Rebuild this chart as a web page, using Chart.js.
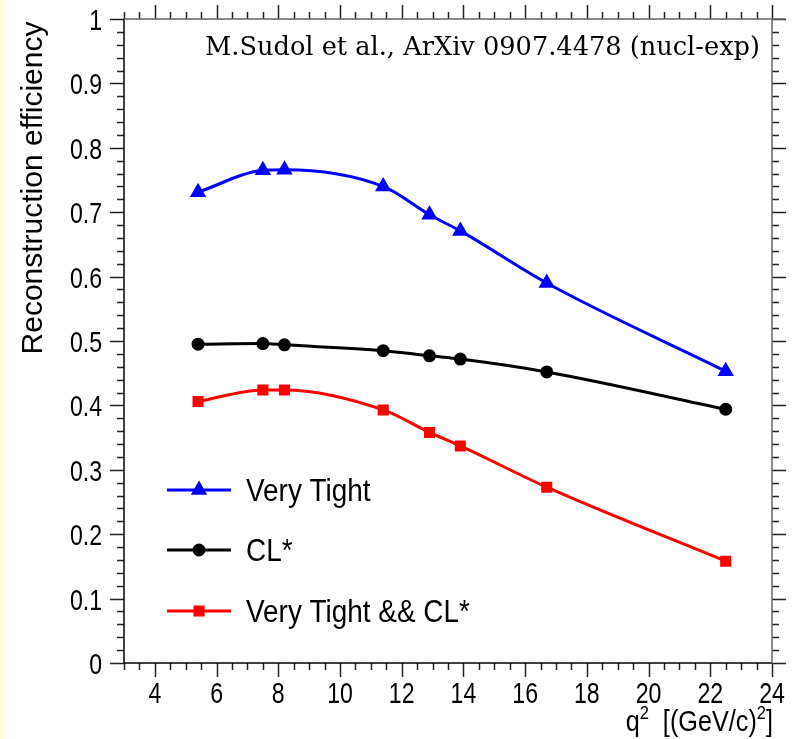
<!DOCTYPE html>
<html>
<head>
<meta charset="utf-8">
<script src="https://cdn.jsdelivr.net/npm/chart.js@4"></script>
<style>
  html, body { margin: 0; padding: 0; background: #fff; }
  #wrap { width: 794px; height: 739px; }
</style>
</head>
<body>
<div id="wrap"><canvas id="effChart" width="794" height="739"></canvas></div>
<script>
const q2 = [5.4, 7.5, 8.2, 11.4, 12.9, 13.9, 16.7, 22.5];
const veryTight = [0.731, 0.765, 0.766, 0.740, 0.696, 0.671, 0.590, 0.453];
const clStar = [0.495, 0.496, 0.494, 0.485, 0.477, 0.472, 0.452, 0.394];
const veryTightCl = [0.406, 0.424, 0.424, 0.393, 0.358, 0.337, 0.273, 0.158];
const xTickValues = [4, 6, 8, 10, 12, 14, 16, 18, 20, 22, 24];
const legendLabels = ["Very Tight", "CL*", "Very Tight && CL*"];

const sans = "'Liberation Sans', Arial, sans-serif";
Chart.defaults.font.family = sans;
Chart.defaults.color = "#000";

const toPoints = ys => q2.map((x, i) => ({x: x, y: ys[i]}));

// text squeezed sideways, the ROOT picture is narrower than the font
function squeezed(ctx, text, x, y, sx, align) {
    ctx.save();
    ctx.translate(x, y);
    ctx.scale(sx, 1);
    ctx.textAlign = align;
    ctx.fillText(text, 0, 0);
    ctx.restore();
}

// frame, ROOT style ticks, labels, legend and texts
const rootStyle = {
    id: "rootStyle",
    beforeDraw(chart) {
        const ctx = chart.ctx;
        ctx.save();
        ctx.fillStyle = "#fff";
        ctx.fillRect(0, 0, chart.width, chart.height);
        ctx.fillStyle = "#ffffe0";
        ctx.fillRect(0, 0, 6, chart.height);
        ctx.restore();
    },
    afterDraw(chart) {
        const ctx = chart.ctx;
        const a = chart.chartArea;
        const xs = chart.scales.x, ys = chart.scales.y;
        ctx.save();
        ctx.lineWidth = 1.5;
        ctx.strokeStyle = "#222";
        // x ticks, every 0.5, major every 2
        for (let v = 3; v <= 24.001; v += 0.5) {
            const px = Math.round(xs.getPixelForValue(v)) + 0.5;
            const major = Math.abs(v / 2 - Math.round(v / 2)) < 1e-6;
            const len = major ? 14 : 7;
            ctx.beginPath();
            ctx.moveTo(px, a.bottom); ctx.lineTo(px, a.bottom + len);
            ctx.moveTo(px, a.top); ctx.lineTo(px, a.top - len);
            ctx.stroke();
        }
        // y ticks, every 0.02, major every 0.1
        for (let k = 0; k <= 50; k++) {
            const v = k * 0.02;
            const py = Math.round(ys.getPixelForValue(v)) + 0.5;
            const len = k % 5 === 0 ? 14 : 7;
            ctx.beginPath();
            ctx.moveTo(a.left, py); ctx.lineTo(a.left - len, py);
            ctx.moveTo(a.right, py); ctx.lineTo(a.right + len, py);
            ctx.stroke();
        }
        // frame
        ctx.strokeStyle = "#000";
        ctx.beginPath();
        ctx.moveTo(a.left, a.top - 0.5); ctx.lineTo(a.left, a.bottom);
        ctx.lineTo(a.right, a.bottom);
        ctx.stroke();
        ctx.strokeStyle = "#666";
        ctx.beginPath();
        ctx.moveTo(a.left, a.top); ctx.lineTo(a.right + 14, a.top);
        ctx.moveTo(a.right, a.top); ctx.lineTo(a.right, a.bottom);
        ctx.stroke();

        // tick labels
        ctx.fillStyle = "#000";
        ctx.font = "30px " + sans;
        ctx.textBaseline = "alphabetic";
        ys.ticks.forEach(t => {
            const py = ys.getPixelForValue(t.value);
            squeezed(ctx, String(+t.value.toFixed(1)), 102, py + 11, 0.77, "right");
        });
        xs.ticks.forEach(t => {
            const px = xs.getPixelForValue(t.value);
            squeezed(ctx, String(t.value), px, 703, 0.77, "center");
        });

        // legend
        const sets = chart.data.datasets;
        const rows = [490, 550, 611];
        sets.forEach((ds, i) => {
            const y = rows[i];
            ctx.strokeStyle = ds.borderColor;
            ctx.lineWidth = 3;
            ctx.beginPath();
            ctx.moveTo(167, y); ctx.lineTo(231, y);
            ctx.stroke();
            ctx.fillStyle = ds.pointBackgroundColor;
            ctx.strokeStyle = ds.pointBorderColor;
            Chart.helpers.drawPoint(ctx, {
                pointStyle: ds.pointStyle, radius: ds.pointRadius,
                rotation: 0, borderWidth: 1
            }, 199, y);
            ctx.fillStyle = "#000";
            ctx.font = "31px " + sans;
            ctx.textBaseline = "alphabetic";
            squeezed(ctx, legendLabels[i], 246, y + 11, 0.9, "left");
        });

        // citation text
        ctx.font = "26px 'DejaVu Serif Condensed', 'DejaVu Serif', serif";
        ctx.textBaseline = "alphabetic";
        const cite = "M.Sudol et al., ArXiv 0907.4478 (nucl-exp)";
        const w = ctx.measureText(cite).width;
        squeezed(ctx, cite, 760, 55, 555 / w, "right");

        // x axis title, right aligned
        ctx.textAlign = "left";
        const big = "29px " + sans, sup = "19px " + sans;
        const parts = [["q", big, 0], ["2", sup, -12], ["  [(GeV/c)", big, 0], ["2", sup, -12], ["]", big, 0]];
        const sx = 0.87;
        let total = 0;
        parts.forEach(p => { ctx.font = p[1]; total += ctx.measureText(p[0]).width * sx; });
        let x = 773 - total;
        parts.forEach(p => {
            ctx.font = p[1];
            squeezed(ctx, p[0], x, 731 + p[2], sx, "left");
            x += ctx.measureText(p[0]).width * sx;
        });

        // y axis title
        ctx.save();
        ctx.translate(42, 188);
        ctx.rotate(-Math.PI / 2);
        ctx.font = "30px " + sans;
        ctx.textAlign = "center";
        ctx.fillText("Reconstruction efficiency", 0, 0);
        ctx.restore();
        ctx.restore();
    }
};

const ctxEff = document.getElementById("effChart").getContext("2d");
new Chart(ctxEff, {
    type: "line",
    data: {
        datasets: [{
            label: legendLabels[0],
            data: toPoints(veryTight),
            borderColor: "#0000ff",
            pointBackgroundColor: "#0000ff",
            pointBorderColor: "#0000ff",
            pointStyle: "triangle",
            pointRadius: 6.5,
            borderWidth: 3,
            cubicInterpolationMode: "monotone"
        }, {
            label: legendLabels[1],
            data: toPoints(clStar),
            borderColor: "#000000",
            pointBackgroundColor: "#000000",
            pointBorderColor: "#000000",
            pointStyle: "circle",
            pointRadius: 5,
            borderWidth: 3,
            cubicInterpolationMode: "monotone"
        }, {
            label: legendLabels[2],
            data: toPoints(veryTightCl),
            borderColor: "#ff0000",
            pointBackgroundColor: "#ff0000",
            pointBorderColor: "#ff0000",
            pointStyle: "rect",
            pointRadius: 5.7,
            borderWidth: 3,
            cubicInterpolationMode: "monotone"
        }]
    },
    options: {
        responsive: false,
        animation: false,
        layout: {padding: {top: 19, right: 22, left: 0, bottom: 0}},
        plugins: {legend: {display: false}, tooltip: {enabled: false}},
        scales: {
            x: {
                type: "linear",
                min: 3,
                max: 24,
                afterBuildTicks: s => { s.ticks = xTickValues.map(v => ({value: v})); },
                afterFit: s => { s.height = 76; s.paddingLeft = 0; s.paddingRight = 0; },
                grid: {display: false},
                border: {display: false},
                ticks: {display: false}
            },
            y: {
                min: 0,
                max: 1,
                afterFit: s => { s.width = 124; s.paddingTop = 0; s.paddingBottom = 0; },
                grid: {display: false},
                border: {display: false},
                ticks: {display: false, stepSize: 0.1}
            }
        }
    },
    plugins: [rootStyle]
});
</script>
</body>
</html>
